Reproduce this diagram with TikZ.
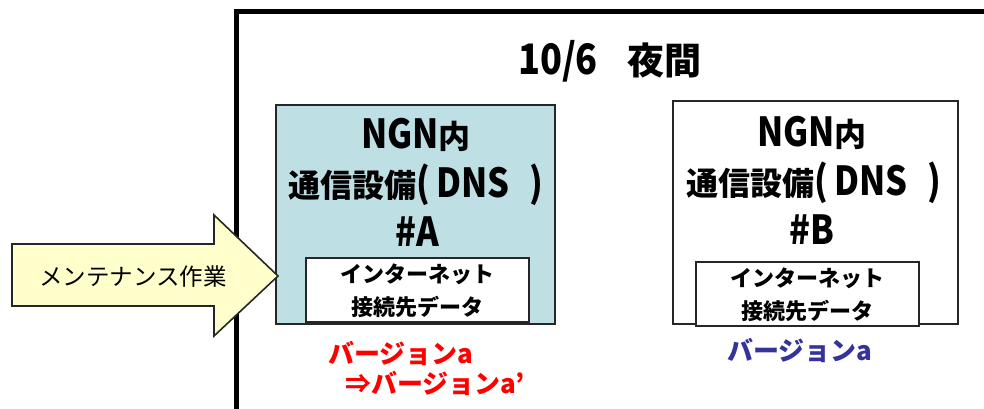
\documentclass[tikz,border=0pt]{standalone}
\usepackage{fontspec}
\newfontfamily\jp{Noto Sans CJK JP}
\newfontfamily\jpl[FakeStretch=0.86]{Noto Sans CJK JP}
\newcommand\BigLat[1]{{\jpl\bfseries\fontsize{40}{40}\selectfont #1}}
\newcommand\TitleLat[1]{{\jpl\bfseries\fontsize{42}{42}\selectfont #1}}
\definecolor{boxblue}{RGB}{190,224,228}
\definecolor{arrowyellow}{RGB}{255,255,204}
\definecolor{verblue}{RGB}{51,51,153}
\definecolor{verred}{RGB}{255,0,0}
\begin{document}
\begin{tikzpicture}[x=1pt,y=-1pt,
  devbox/.style={draw=black!85, line width=1.6pt, inner sep=0pt},
  databox/.style={draw=black!85, line width=1.6pt, fill=white, inner sep=0pt, minimum width=223pt, minimum height=64pt},
  bigtxt/.style={font=\jp\bfseries\fontsize{32}{32}\selectfont, inner sep=0pt},
  datatxt/.style={font=\jp\bfseries\fontsize{22}{22}\selectfont, inner sep=0pt},
  vertxt/.style={font=\jp\bfseries\fontsize{26}{26}\selectfont, inner sep=0pt}]
\useasboundingbox (0,0) rectangle (984,409);
\clip (0,0) rectangle (984,409);
% outer frame
\draw[line width=5pt] (236,420) -- (236,12) -- (1000,12);
\node[font=\jp\bfseries\fontsize{37}{37}\selectfont, inner sep=0pt] (title) at (610,61) {\TitleLat{10/6}\hspace{30pt}夜間};
% device A
\node[devbox, fill=boxblue, minimum width=279pt, minimum height=219pt] (boxA) at (415.5,214.5) {};
\node[bigtxt] (a1) at (416,135) {\BigLat{NGN}内};
\node[bigtxt] (a2) at (416,185) {通信設備\BigLat{(\hspace{6pt}DNS\hspace{20pt})}};
\node[bigtxt] (a3) at (417,232) {\BigLat{\#A}};
\node[databox] (innerA) at (417.5,290) {};
\node[datatxt] (ia1) at (417.5,274) {インターネット};
\node[datatxt] (ia2) at (417.5,307) {接続先データ};
% device B
\node[devbox, fill=white, minimum width=285pt, minimum height=223pt] (boxB) at (815.5,212.5) {};
\node[bigtxt] (b1) at (812,133) {\BigLat{NGN}内};
\node[bigtxt] (b2) at (814,183) {通信設備\BigLat{(\hspace{6pt}DNS\hspace{20pt})}};
\node[bigtxt] (b3) at (812,230) {\BigLat{\#B}};
\node[databox] (innerB) at (807.5,294) {};
\node[datatxt] (ib1) at (807.5,278) {インターネット};
\node[datatxt] (ib2) at (807.5,311) {接続先データ};
% maintenance arrow
\draw[draw=black!85, line width=1.6pt, fill=arrowyellow, line join=miter]
  (12,244) -- (214,244) -- (214,215) -- (278,276) -- (214,336) -- (214,306) -- (12,306) -- cycle;
\node[font=\jp\fontsize{23.5}{23.5}\selectfont, inner sep=0pt] (maint) at (133,277) {メンテナンス作業};
% version labels
\node[vertxt, text=verred, anchor=west] (va) at (328,353) {バージョンa};
\node[vertxt, text=verred, anchor=west] (va2) at (345,383) {⇒バージョンa’};
\node[vertxt, text=verblue] (vb) at (800,350) {バージョンa};
\end{tikzpicture}
\end{document}
